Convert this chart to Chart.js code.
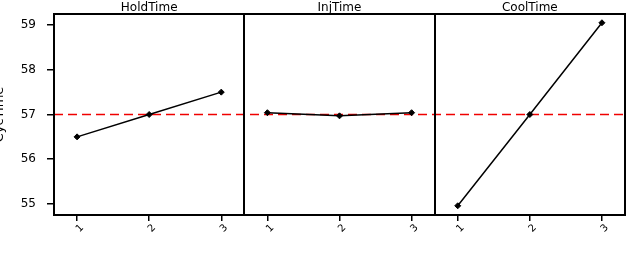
<!DOCTYPE html>
<html>
<head>
<meta charset="utf-8">
<script src="https://cdn.jsdelivr.net/npm/chart.js@4"></script>
<style>
  html, body { margin: 0; padding: 0; background: #fff; }
  #wrap { width: 630px; height: 256px; }
</style>
</head>
<body>
<div id="wrap"><canvas id="chart" width="630" height="256"></canvas></div>
<script>
const factors = ['HoldTime', 'InjTime', 'CoolTime'];
const levels = ['1', '2', '3'];
const holdTime = [56.5, 57.0, 57.5];
const injTime = [57.04, 56.97, 57.04];
const coolTime = [54.96, 57.0, 59.05];
const grandMean = 57.0;
const yTicks = [55, 56, 57, 58, 59];

const SPAN = 2.64;   // width of one panel in x units
const OFF = 0.32;    // gap before level 1 inside a panel
const FONT = '"DejaVu Sans", sans-serif';

const series = [holdTime, injTime, coolTime];

function panelPoints(p, values) {
    return values.map((v, i) => ({ x: p * SPAN + OFF + i, y: v }));
}

const datasets = series.map((values, p) => ({
    label: factors[p],
    data: panelPoints(p, values),
    borderColor: '#000',
    backgroundColor: '#000',
    borderWidth: 1.5,
    pointStyle: 'rectRot',
    pointRadius: 3,
    pointBorderWidth: 1,
    tension: 0
}));

datasets.push({
    label: 'mean',
    data: [{ x: 0, y: grandMean }, { x: SPAN * factors.length, y: grandMean }],
    borderColor: '#f00000',
    borderWidth: 1.5,
    borderDash: [9, 5],
    pointRadius: 0
});

const xTickValues = [];
factors.forEach((f, p) => levels.forEach((l, i) => xTickValues.push(p * SPAN + OFF + i)));

// panel box, dividers, strip titles and y title
const panelPlugin = {
    id: 'panels',
    afterDatasetsDraw(chart) {
        const { ctx, chartArea } = chart;
        const x = chart.scales.x;
        ctx.save();
        ctx.strokeStyle = '#000';
        ctx.lineWidth = 2;
        ctx.strokeRect(chartArea.left, chartArea.top, chartArea.right - chartArea.left, chartArea.bottom - chartArea.top);
        for (let p = 1; p < factors.length; p++) {
            const px = Math.round(x.getPixelForValue(p * SPAN));
            ctx.beginPath();
            ctx.moveTo(px, chartArea.top);
            ctx.lineTo(px, chartArea.bottom);
            ctx.stroke();
        }
        ctx.fillStyle = '#000';
        ctx.font = '12px ' + FONT;
        ctx.textAlign = 'center';
        ctx.textBaseline = 'alphabetic';
        factors.forEach((f, p) => {
            const cx = (x.getPixelForValue(p * SPAN) + x.getPixelForValue((p + 1) * SPAN)) / 2;
            ctx.fillText(f, cx, chartArea.top - 3);
        });
        ctx.translate(0, (chartArea.top + chartArea.bottom) / 2);
        ctx.rotate(-Math.PI / 2);
        ctx.font = '13px ' + FONT;
        ctx.textBaseline = 'middle';
        ctx.fillText('CycTime', 0, 0);
        ctx.restore();
    }
};

new Chart(document.getElementById('chart'), {
    type: 'line',
    data: { datasets: datasets },
    options: {
        responsive: false,
        animation: false,
        layout: { padding: { top: 14, right: 5, left: 0, bottom: 0 } },
        plugins: { legend: { display: false }, tooltip: { enabled: false } },
        scales: {
            x: {
                type: 'linear',
                min: 0,
                max: SPAN * factors.length,
                afterBuildTicks: scale => { scale.ticks = xTickValues.map(v => ({ value: v })); },
                afterFit: scale => {
                    scale.height = 41;
                    scale.paddingLeft = 0;
                    scale.paddingRight = 0;
                },
                border: { display: false },
                grid: { drawOnChartArea: false, color: '#000', lineWidth: 1.5, tickLength: 6 },
                ticks: {
                    autoSkip: false,
                    minRotation: 45,
                    maxRotation: 45,
                    padding: 1,
                    labelOffset: 5,
                    color: '#000',
                    font: { family: FONT, size: 10 },
                    callback: (v, i) => levels[i % levels.length]
                }
            },
            y: {
                min: 54.754,
                max: 59.246,
                afterBuildTicks: scale => { scale.ticks = yTicks.map(v => ({ value: v })); },
                afterFit: scale => {
                    scale.width = 54;
                    scale.paddingTop = 0;
                    scale.paddingBottom = 0;
                },
                border: { display: false },
                grid: { drawOnChartArea: false, color: '#000', lineWidth: 1.5, tickLength: 7 },
                ticks: {
                    padding: 11,
                    color: '#000',
                    font: { family: FONT, size: 12 }
                }
            }
        }
    },
    plugins: [panelPlugin]
});
</script>
</body>
</html>
